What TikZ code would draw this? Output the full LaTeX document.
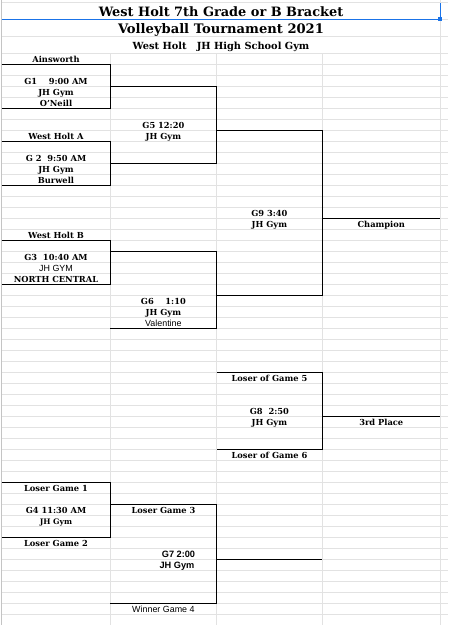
\documentclass[tikz,border=0pt]{standalone}
\usepackage{fontspec}
\setmainfont{DejaVu Serif}
\newfontfamily\sheetsans{Liberation Sans}
\usepackage{xcolor}
\definecolor{gridgray}{HTML}{E2E2E2}
\definecolor{edgegray}{HTML}{C4C4C4}
\definecolor{selblue}{HTML}{1A73E8}
\newcommand{\rowline}[1]{53.3+11.01*(#1)}
\newcommand{\rowbase}[1]{62.3+11.01*(#1)}
\begin{document}
\begin{tikzpicture}[
        x=1pt, y=-1pt,
        grid_line/.style={
            draw=gridgray, 
            line width=0.8pt
        },
        bracket_line/.style={
            draw=black, 
            line width=1.2pt
        },
        team_text/.style={
            anchor=base, 
            inner sep=0pt, 
            font=\bfseries\fontsize{8.3}{9}\selectfont
        },
        sans_text/.style={
            anchor=base, 
            inner sep=0pt, 
            font=\sheetsans\fontsize{8.9}{9}\selectfont
        },
        title_text/.style={
            anchor=base, 
            inner sep=0pt, 
            font=\bfseries\fontsize{12.9}{15}\selectfont
        }
    ]
    \useasboundingbox (0,0) rectangle (448,625);

    % Sheet grid
    \foreach \k in {0,...,51}
        \draw[grid_line] (1.5,{\rowline{\k}}) -- (448,{\rowline{\k}});
    \foreach \yy in {2.7,36}
        \draw[grid_line] (1.5,\yy) -- (448,\yy);
    \draw[grid_line] (440.3,19.3) -- (448,19.3);
    \foreach \xx in {110.3,216.5,322.3}
        \draw[grid_line] (\xx,53.3) -- (\xx,625);
    \draw[grid_line] (440.3,0) -- (440.3,625);
    \draw[draw=edgegray, line width=0.9pt] (1.5,0) -- (1.5,625);

    % Selected cell
    \draw[selblue, line width=1pt] (1.5,19.3) -- (440.3,19.3) -- (440.3,2.7);
    \fill[selblue] (438.3,17.3) rectangle (442.3,21.3);

    % Headings
    \node[title_text] (title) at (221,16.7) {West Holt 7th Grade or B Bracket};
    \node[title_text, font=\bfseries\fontsize{13.1}{15}\selectfont] (subtitle) at (221,33.5) {Volleyball Tournament 2021};
    \node[team_text, font=\bfseries\fontsize{9.8}{11}\selectfont] (venue) at (221,49.3) {West Holt\ \ \ JH High School Gym};

    % First round
    \draw[bracket_line] (1.5,{\rowline{1}}) -- (110.3,{\rowline{1}}) -- (110.3,{\rowline{5}}) -- (1.5,{\rowline{5}});
    \draw[bracket_line] (1.5,{\rowline{8}}) -- (110.3,{\rowline{8}}) -- (110.3,{\rowline{12}}) -- (1.5,{\rowline{12}});
    \draw[bracket_line] (1.5,{\rowline{17}}) -- (110.3,{\rowline{17}}) -- (110.3,{\rowline{21}}) -- (1.5,{\rowline{21}});
    \draw[bracket_line] (1.5,{\rowline{39}}) -- (110.3,{\rowline{39}}) -- (110.3,{\rowline{44}}) -- (1.5,{\rowline{44}});

    \node[team_text] (ainsworth) at (56,{\rowbase{0}}) {Ainsworth};
    \node[team_text] (g1time) at (56,{\rowbase{2}}) {G1\ \ \ \ 9:00 AM};
    \node[team_text] (g1gym) at (56,{\rowbase{3}}) {JH Gym};
    \node[team_text] (oneill) at (56,{\rowbase{4}}) {O'Neill};
    \node[team_text] (whA) at (56,{\rowbase{7}}) {West Holt A};
    \node[team_text] (g2time) at (56,{\rowbase{9}}) {G 2\ \ 9:50 AM};
    \node[team_text] (g2gym) at (56,{\rowbase{10}}) {JH Gym};
    \node[team_text] (burwell) at (56,{\rowbase{11}}) {Burwell};
    \node[team_text] (whB) at (56,{\rowbase{16}}) {West Holt B};
    \node[team_text] (g3time) at (56,{\rowbase{18}}) {G3\ \ 10:40 AM};
    \node[sans_text] (g3gym) at (56,{\rowbase{19}}) {JH GYM};
    \node[team_text] (northc) at (56,{\rowbase{20}}) {NORTH CENTRAL};
    \node[team_text] (lose1) at (56,{\rowbase{39}}) {Loser Game 1};
    \node[team_text] (g4time) at (56,{\rowbase{41}}) {G4 11:30 AM};
    \node[team_text, font=\bfseries\fontsize{7.6}{8}\selectfont] (g4gym) at (56,{\rowbase{42}}) {JH Gym};
    \node[team_text] (lose2) at (56,{\rowbase{44}}) {Loser Game 2};

    % Second round
    \draw[bracket_line] (110.3,{\rowline{3}}) -- (216.5,{\rowline{3}}) -- (216.5,{\rowline{10}}) -- (110.3,{\rowline{10}});
    \draw[bracket_line] (110.3,{\rowline{18}}) -- (216.5,{\rowline{18}}) -- (216.5,{\rowline{25}}) -- (110.3,{\rowline{25}});
    \draw[bracket_line] (110.3,{\rowline{41}}) -- (216.5,{\rowline{41}}) -- (216.5,{\rowline{50}}) -- (110.3,{\rowline{50}});
    \draw[bracket_line] (216.5,{\rowline{46}}) -- (322.3,{\rowline{46}});

    \node[team_text] (g5time) at (163.4,{\rowbase{6}}) {G5 12:20};
    \node[team_text] (g5gym) at (163.4,{\rowbase{7}}) {JH Gym};
    \node[team_text] (g6time) at (163.4,{\rowbase{22}}) {G6\ \ \ \ 1:10};
    \node[team_text] (g6gym) at (163.4,{\rowbase{23}}) {JH Gym};
    \node[sans_text] (valentine) at (163.4,{\rowbase{24}}) {Valentine};
    \node[team_text] (lose3) at (163.4,{\rowbase{41}}) {Loser Game 3};
    \node[sans_text, font=\sheetsans\bfseries\fontsize{9.2}{9}\selectfont] (g7time) at (178.5,{\rowbase{45}}) {G7 2:00};
    \node[sans_text, font=\sheetsans\bfseries\fontsize{9.2}{9}\selectfont] (g7gym) at (177,{\rowbase{46}}) {JH Gym};
    \node[sans_text] (win4) at (163.4,{\rowbase{50}}) {Winner Game 4};

    % Final and third place
    \draw[bracket_line] (216.5,{\rowline{7}}) -- (322.3,{\rowline{7}}) -- (322.3,{\rowline{22}}) -- (216.5,{\rowline{22}});
    \draw[bracket_line] (322.3,{\rowline{15}}) -- (440.3,{\rowline{15}});
    \draw[bracket_line] (216.5,{\rowline{29}}) -- (322.3,{\rowline{29}}) -- (322.3,{\rowline{36}}) -- (216.5,{\rowline{36}});
    \draw[bracket_line] (322.3,{\rowline{33}}) -- (440.3,{\rowline{33}});

    \node[team_text] (g9time) at (269.4,{\rowbase{14}}) {G9 3:40};
    \node[team_text] (g9gym) at (269.4,{\rowbase{15}}) {JH Gym};
    \node[team_text] (champ) at (381.3,{\rowbase{15}}) {Champion};
    \node[team_text] (lose5) at (269.4,{\rowbase{29}}) {Loser of Game 5};
    \node[team_text] (g8time) at (269.4,{\rowbase{32}}) {G8\ \ 2:50};
    \node[team_text] (g8gym) at (269.4,{\rowbase{33}}) {JH Gym};
    \node[team_text] (third) at (381.3,{\rowbase{33}}) {3rd Place};
    \node[team_text] (lose6) at (269.4,{\rowbase{36}}) {Loser of Game 6};

    \end{tikzpicture}
\end{document}
